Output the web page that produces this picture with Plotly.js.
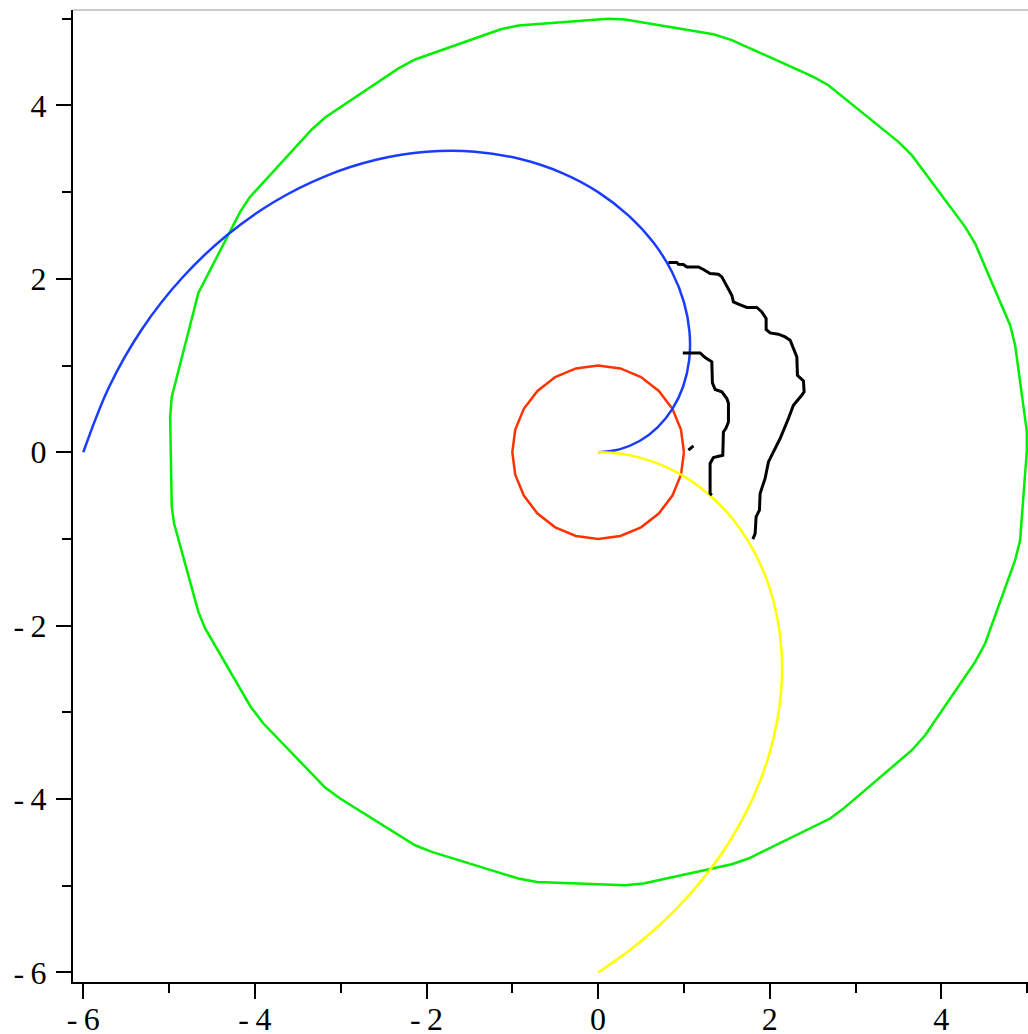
<!DOCTYPE html>
<html>
<head>
<meta charset="utf-8">
<script src="https://cdn.plot.ly/plotly-3.0.1.min.js"></script>
<style>
  html, body { margin: 0; padding: 0; background: #ffffff; }
  #chart { width: 1028px; height: 1034px; }
</style>
</head>
<body>
<div id="chart"></div>
<script>
// ---- data ----
const redX = [1, 0.966, 0.866, 0.707, 0.5, 0.259, 0, -0.259, -0.5, -0.707, -0.866, -0.966, -1, -0.966, -0.866, -0.707, -0.5, -0.259, 0, 0.259, 0.5, 0.707, 0.866, 0.966, 1];
const redY = [0, 0.259, 0.5, 0.707, 0.866, 0.966, 1, 0.966, 0.866, 0.707, 0.5, 0.259, 0, -0.259, -0.5, -0.707, -0.866, -0.966, -1, -0.966, -0.866, -0.707, -0.5, -0.259, 0];

const blueX = [0, 0.248, 0.483, 0.693, 0.866, 0.992, 1.061, 1.065, 1.0, 0.861, 0.647, 0.359, 0, -0.424, -0.906, -1.435, -2.0, -2.587, -3.182, -3.769, -4.330, -4.850, -5.313, -5.701, -6];
const blueY = [0, 0.033, 0.129, 0.287, 0.5, 0.761, 1.061, 1.388, 1.732, 2.079, 2.415, 2.726, 3, 3.222, 3.381, 3.465, 3.464, 3.372, 3.182, 2.892, 2.5, 2.009, 1.424, 0.750, 0];

const yellowX = [0, 0.249, 0.496, 0.736, 0.966, 1.184, 1.386, 1.570, 1.732, 1.871, 1.984, 2.068, 2.121, 2.143, 2.131, 2.083, 2.0, 1.880, 1.722, 1.527, 1.294, 1.024, 0.718, 0.376, 0];
const yellowY = [0, -0.016, -0.065, -0.146, -0.259, -0.402, -0.574, -0.774, -1.0, -1.250, -1.522, -1.813, -2.121, -2.443, -2.777, -3.118, -3.464, -3.812, -4.157, -4.498, -4.830, -5.149, -5.453, -5.738, -6];

const greenX = [4.997, 4.997, 4.860, 4.802, 4.394, 4.277, 3.656, 3.500, 2.684, 2.509, 1.558, 1.344, 0.315, 0.117, -0.929, -1.142, -2.133, -2.327, -3.182, -3.337, -4.056, -4.172, -4.659, -4.969, -4.988, -4.969, -4.942, -4.659, -4.580, -4.048, -3.901, -3.182, -3.007, -2.133, -1.938, -0.929, -0.714, 0.315, 0.528, 1.558, 1.752, 2.704, 2.859, 3.656, 3.811, 4.394, 4.510, 4.860, 4.918, 4.997];
const greenY = [0.023, 0.234, 1.234, 1.465, 2.407, 2.599, 3.426, 3.579, 4.233, 4.329, 4.752, 4.821, 4.991, 5.0, 4.922, 4.875, 4.529, 4.426, 3.860, 3.722, 2.945, 2.772, 1.837, 0.638, 0.407, -0.631, -0.822, -1.842, -2.033, -2.938, -3.129, -3.867, -3.994, -4.533, -4.610, -4.917, -4.956, -4.994, -4.975, -4.752, -4.686, -4.225, -4.110, -3.437, -3.264, -2.419, -2.206, -1.246, -1.015, 0.023];

const blackX = [0.819, 0.917, 0.936, 0.994, 1.034, 1.169, 1.227, 1.305, 1.402, 1.442, 1.558, 1.577, 1.635, 1.733, 1.850, 1.908, 1.958, 1.958, 2.005, 2.101, 2.179, 2.238, 2.316, 2.323, 2.393, 2.401, 2.373, 2.316, 2.276, 2.218, 2.121, 2.043, 1.985, 1.946, 1.888, 1.880, 1.841, 1.830, 1.803,
  null,
  0.987, 1.189, 1.247, 1.325, 1.332, 1.364, 1.442, 1.500, 1.519, 1.519, 1.488, 1.460, 1.453, 1.383, 1.344, 1.305, 1.305, 1.325,
  null,
  1.052, 1.111];
const blackY = [2.188, 2.188, 2.168, 2.165, 2.137, 2.137, 2.107, 2.061, 2.053, 2.022, 1.811, 1.734, 1.707, 1.669, 1.669, 1.618, 1.542, 1.415, 1.376, 1.361, 1.330, 1.292, 1.099, 0.888, 0.822, 0.696, 0.657, 0.588, 0.542, 0.389, 0.158, 0.003, -0.112, -0.303, -0.476, -0.669, -0.746, -0.938, -1.003,
  null,
  1.145, 1.145, 1.092, 1.042, 0.799, 0.723, 0.696, 0.619, 0.565, 0.349, 0.273, 0.234, -0.035, -0.054, -0.061, -0.130, -0.476, -0.496,
  null,
  0.023, 0.073];

const majorTickVals = [-6, -4, -2, 0, 2, 4];
const majorTickText = ["-\u20096", "-\u20094", "-\u20092", "0", "2", "4"];
const minorTickVals = [-5, -3, -1, 1, 3, 5];

// ---- drawing ----
function lineTrace(x, y, color, width, shape) {
  return { x: x, y: y, type: 'scatter', mode: 'lines', connectgaps: false,
           line: { color: color, width: width, shape: shape || 'linear', smoothing: 1 },
           hoverinfo: 'skip', showlegend: false };
}

const traces = [
  lineTrace(greenX, greenY, '#00ee00', 2.5),
  lineTrace(redX, redY, '#ff3300', 2.5),
  lineTrace(blueX, blueY, '#1a3cff', 2.5, 'spline'),
  lineTrace(yellowX, yellowY, '#ffff00', 2.5, 'spline'),
  lineTrace(blackX, blackY, '#000000', 3)
];

const tickFont = { family: 'Liberation Serif', size: 32, color: '#000000' };

function axis(range, standoff) {
  return {
    range: range,
    showgrid: false,
    zeroline: false,
    showline: true,
    linecolor: '#000000',
    linewidth: 2,
    ticks: 'outside',
    ticklen: 15,
    tickwidth: 2,
    tickcolor: '#000000',
    tickmode: 'array',
    tickvals: majorTickVals,
    ticktext: majorTickText,
    tickfont: tickFont,
    ticklabelstandoff: standoff,
    minor: { tickmode: 'array', tickvals: minorTickVals, ticks: 'outside', ticklen: 9, tickwidth: 2, tickcolor: '#000000', showgrid: false },
    fixedrange: true
  };
}

const layout = {
  width: 1028,
  height: 1034,
  margin: { l: 73, r: 0, t: 10, b: 52, pad: 0 },
  font: { family: 'Liberation Serif', size: 32, color: '#000000' },
  paper_bgcolor: '#ffffff',
  plot_bgcolor: '#ffffff',
  showlegend: false,
  xaxis: axis([-6.12, 5.01], -7),
  yaxis: axis([-6.11, 5.10], 3),
  shapes: [
    { type: 'line', xref: 'paper', yref: 'paper', x0: 0, x1: 1, y0: 1, y1: 1,
      line: { color: '#999999', width: 1 } }
  ]
};

Plotly.newPlot('chart', traces, layout, { displayModeBar: false, staticPlot: true });
</script>
</body>
</html>
